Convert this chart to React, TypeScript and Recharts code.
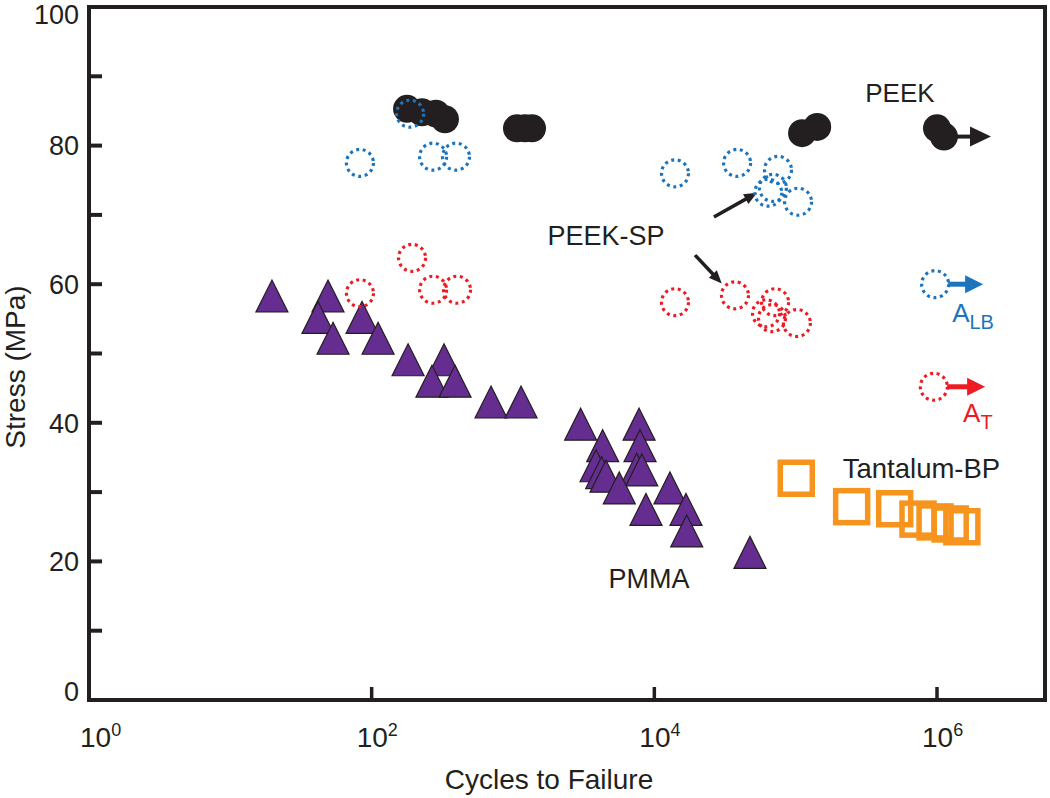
import React from 'react';
import { ScatterChart, Scatter, XAxis, YAxis, ReferenceArea, ReferenceDot, ReferenceLine } from 'recharts';

// ---------- data ----------
const peekCycles = [178, 227, 285, 330, 1067, 1216, 1363, 1.11e5, 1.42e5, 1.0e6, 1.12e6];
const peekStress = [85.3, 84.8, 84.6, 83.8, 82.5, 82.5, 82.5, 81.8, 82.7, 82.5, 81.3];

const spBlueCycles = [82.6, 187, 272, 395, 1.4e4, 3.85e4, 7.5e4, 6.9e4, 6.4e4, 1.04e5, 9.7e5];
const spBlueStress = [77.5, 84.6, 78.4, 78.4, 76.0, 77.5, 76.5, 73.9, 73.2, 71.9, 60.0];

const spRedCycles = [82.6, 193, 272, 402, 1.4e4, 3.72e4, 7.15e4, 6.8e4, 6.17e4, 1.02e5, 9.5e5];
const spRedStress = [58.7, 63.8, 59.2, 59.2, 57.4, 58.4, 57.4, 55.1, 55.8, 54.4, 45.2];

const pmmaCycles = [19.7, 49.1, 41.7, 53.3, 85.5, 111, 181, 325, 267, 389, 699, 1140, 3010, 7800, 4310, 7920, 3870, 4240, 4550, 7500, 8150, 5650, 12900, 8730, 16750, 16950, 47500];
const pmmaStress = [58.3, 58.3, 55.2, 52.2, 55.2, 52.2, 49.1, 49.1, 46.0, 46.0, 43.0, 43.0, 39.8, 39.8, 36.7, 36.7, 33.8, 32.8, 32.3, 33.3, 33.2, 30.6, 30.6, 27.5, 27.5, 24.4, 21.3];

const tantalumCycles = [1.01e5, 2.49e5, 5.02e5, 7.34e5, 9.69e5, 1.24e6, 1.5e6];
const tantalumStress = [32.0, 27.9, 27.6, 26.1, 25.7, 25.4, 25.0];

const xTicks = [1, 100, 1e4, 1e6];
const yTicks = [0, 10, 20, 30, 40, 50, 60, 70, 80, 90, 100];
const xDomain = [1, 5.81e6];
const yDomain = [0, 100];

// arrows: [startCycles, startStress, endCycles, endStress]
const runoutPeek = [1.34e6, 81.3, 2.41e6, 81.3];
const runoutBlue = [1.2e6, 60.0, 2.12e6, 60.0];
const runoutRed = [1.18e6, 45.2, 2.19e6, 45.2];
const pointerUpper = [2.64e4, 69.7, 5.33e4, 73.2];
const pointerLower = [1.94e4, 64.2, 3.0e4, 60.1];

// labels: [cycles, stress]
const labelPeek = [5.47e5, 87.7];
const labelPeekSp = [4550, 67.0];
const labelPmma = [9170, 17.6];
const labelTantalum = [7.77e5, 33.5];
const labelALB = [1.28e6, 54.5];
const labelAT = [1.53e6, 40.1];

const zip = (xs: number[], ys: number[]) => xs.map((x, i) => ({ x, y: ys[i] }));

// ---------- styles ----------
const FONT = "'Liberation Sans', Arial, Helvetica, sans-serif";
const BLACK = '#231f20';
const BLUE = '#1c75bc';
const RED = '#ed1c24';
const ORANGE = '#f7941d';
const PURPLE = '#662d91';

const filledCircle = (p: any) => <circle cx={p.cx} cy={p.cy} r={14} fill={BLACK} />;
const dottedCircle = (color: string) => (p: any) => (
  <circle cx={p.cx} cy={p.cy} r={13.5} fill="none" stroke={color} strokeWidth={3.2} strokeDasharray="3 3.6" />
);
const triangle = (p: any) => (
  <polygon
    points={`${p.cx},${p.cy - 16} ${p.cx + 16},${p.cy + 16} ${p.cx - 16},${p.cy + 16}`}
    fill={PURPLE}
    stroke={BLACK}
    strokeWidth={1.2}
  />
);
const square = (p: any) => (
  <rect x={p.cx - 16} y={p.cy - 16} width={32} height={32} fill="none" stroke={ORANGE} strokeWidth={5.5} />
);

const makeArrow = (color: string, width: number, head: number, headW: number) => (p: any) => {
  const { x1, y1, x2, y2 } = p;
  const dx = x2 - x1;
  const dy = y2 - y1;
  const len = Math.hypot(dx, dy) || 1;
  const ux = dx / len;
  const uy = dy / len;
  const bx = x2 - ux * head;
  const by = y2 - uy * head;
  const px = (-uy * headW) / 2;
  const py = (ux * headW) / 2;
  return (
    <g>
      <line x1={x1} y1={y1} x2={bx + ux} y2={by + uy} stroke={color} strokeWidth={width} />
      <polygon points={`${x2},${y2} ${bx + px},${by + py} ${bx - px},${by - py}`} fill={color} />
    </g>
  );
};

const centerText = (text: string, color: string, size: number) => (p: any) => (
  <text x={p.cx} y={p.cy} dy={size * 0.36} textAnchor="middle" fontSize={size} fontFamily={FONT} fill={color}>
    {text}
  </text>
);

const subText = (main: string, sub: string, color: string) => (p: any) => (
  <text x={p.cx} y={p.cy} textAnchor="start" fontSize={26} fontFamily={FONT} fill={color}>
    {main}
    <tspan fontSize={20} dy={7}>{sub}</tspan>
  </text>
);

const YTick = (props: any) => {
  const { x, y, payload } = props;
  const v = payload.value;
  const showLabel = v % 20 === 0;
  const dy = v === 0 ? -9 : v === 100 ? 7 : 0;
  return (
    <g>
      {v !== 0 && v !== 100 && <line x1={x} x2={x + 13} y1={y} y2={y} stroke={BLACK} strokeWidth={4} />}
      {showLabel && (
        <text x={x - 10} y={y + dy} dy={27 * 0.36} textAnchor="end" fontSize={27} fontFamily={FONT} fill={BLACK}>
          {v}
        </text>
      )}
    </g>
  );
};

const XTick = (props: any) => {
  const { x, y, payload } = props;
  const exp = Math.round(Math.log10(payload.value));
  const startX = exp === 0 ? x - 9 : x - 15;
  return (
    <g>
      {exp !== 0 && <line x1={x} x2={x} y1={y} y2={y - 13} stroke={BLACK} strokeWidth={3.5} />}
      <text x={startX} y={y + 47} textAnchor="start" fontSize={28} fontFamily={FONT} fill={BLACK}>
        10
        <tspan dy={-11} fontSize={18}>{exp}</tspan>
      </text>
    </g>
  );
};

const seg = (a: number[]) => [
  { x: a[0], y: a[1] },
  { x: a[2], y: a[3] },
];

export default function App() {
  return (
    <div style={{ position: 'absolute', left: 0, top: 0, width: 1050, height: 798, background: '#fff' }}>
      <ScatterChart width={1050} height={798} margin={{ top: 7, right: 5, bottom: 0, left: 0 }}>
        <XAxis
          type="number"
          dataKey="x"
          scale="log"
          domain={xDomain}
          ticks={xTicks}
          interval={0}
          allowDataOverflow
          tick={XTick}
          tickLine={false}
          axisLine={false}
          tickSize={0}
          tickMargin={0}
          height={98}
        />
        <YAxis
          type="number"
          dataKey="y"
          domain={yDomain}
          ticks={yTicks}
          interval={0}
          allowDataOverflow
          tick={YTick}
          tickLine={false}
          axisLine={false}
          tickSize={0}
          tickMargin={0}
          width={89}
        />
        <ReferenceArea
          x1={xDomain[0]}
          x2={xDomain[1]}
          y1={yDomain[0]}
          y2={yDomain[1]}
          fill="none"
          fillOpacity={0}
          stroke={BLACK}
          strokeWidth={4}
          ifOverflow="visible"
        />
        <Scatter data={zip(pmmaCycles, pmmaStress)} shape={triangle} isAnimationActive={false} />
        <Scatter data={zip(tantalumCycles, tantalumStress)} shape={square} isAnimationActive={false} />
        <Scatter data={zip(peekCycles, peekStress)} shape={filledCircle} isAnimationActive={false} />
        <Scatter data={zip(spBlueCycles, spBlueStress)} shape={dottedCircle(BLUE)} isAnimationActive={false} />
        <Scatter data={zip(spRedCycles, spRedStress)} shape={dottedCircle(RED)} isAnimationActive={false} />

        <ReferenceLine segment={seg(runoutPeek)} shape={makeArrow(BLACK, 4, 21, 20)} ifOverflow="visible" />
        <ReferenceLine segment={seg(runoutBlue)} shape={makeArrow(BLUE, 5, 18, 18)} ifOverflow="visible" />
        <ReferenceLine segment={seg(runoutRed)} shape={makeArrow(RED, 5, 18, 18)} ifOverflow="visible" />
        <ReferenceLine segment={seg(pointerUpper)} shape={makeArrow(BLACK, 3.5, 13, 11)} ifOverflow="visible" />
        <ReferenceLine segment={seg(pointerLower)} shape={makeArrow(BLACK, 3.5, 13, 11)} ifOverflow="visible" />

        <ReferenceDot x={labelPeek[0]} y={labelPeek[1]} shape={centerText('PEEK', BLACK, 26)} ifOverflow="visible" />
        <ReferenceDot x={labelPeekSp[0]} y={labelPeekSp[1]} shape={centerText('PEEK-SP', BLACK, 27)} ifOverflow="visible" />
        <ReferenceDot x={labelPmma[0]} y={labelPmma[1]} shape={centerText('PMMA', BLACK, 27)} ifOverflow="visible" />
        <ReferenceDot x={labelTantalum[0]} y={labelTantalum[1]} shape={centerText('Tantalum-BP', BLACK, 27.5)} ifOverflow="visible" />
        <ReferenceDot x={labelALB[0]} y={labelALB[1]} shape={subText('A', 'LB', BLUE)} ifOverflow="visible" />
        <ReferenceDot x={labelAT[0]} y={labelAT[1]} shape={subText('A', 'T', RED)} ifOverflow="visible" />
      </ScatterChart>
      <div
        style={{
          position: 'absolute',
          left: 549,
          top: 766,
          transform: 'translateX(-50%)',
          fontFamily: FONT,
          fontSize: 28,
          lineHeight: '28px',
          color: BLACK,
          whiteSpace: 'nowrap',
        }}
      >
        Cycles to Failure
      </div>
      <div
        style={{
          position: 'absolute',
          left: 16,
          top: 367,
          transform: 'translate(-50%, -50%) rotate(-90deg)',
          fontFamily: FONT,
          fontSize: 28,
          lineHeight: '28px',
          color: BLACK,
          whiteSpace: 'nowrap',
        }}
      >
        Stress (MPa)
      </div>
    </div>
  );
}
